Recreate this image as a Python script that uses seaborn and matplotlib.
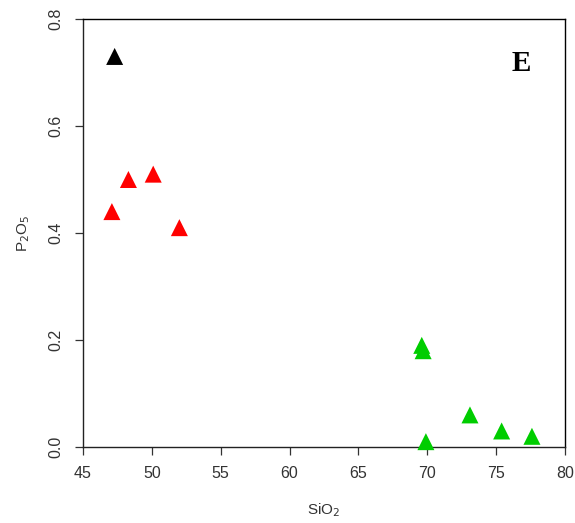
import matplotlib
matplotlib.use("Agg")
import matplotlib.pyplot as plt
import seaborn as sns
import pandas as pd

# Whole-rock SiO2 vs P2O5 (wt%) by rock group
groups = ["black"] + ["red"] * 4 + ["green"] * 6
sio2 = [47.3, 47.1, 48.3, 50.1, 52.0, 69.6, 69.7, 69.9, 73.1, 75.4, 77.6]
p2o5 = [0.73, 0.44, 0.50, 0.51, 0.41, 0.19, 0.18, 0.01, 0.06, 0.03, 0.02]
df = pd.DataFrame({"SiO2": sio2, "P2O5": p2o5, "group": groups})

palette = {"black": "#000000", "red": "#FF0000", "green": "#00CD00"}
x_ticks = [45, 50, 55, 60, 65, 70, 75, 80]
y_ticks = [0.0, 0.2, 0.4, 0.6, 0.8]
y_tick_labels = ["0.0", "0.2", "0.4", "0.6", "0.8"]

sns.set_theme(style="ticks")
plt.rcParams["font.family"] = ["Liberation Sans", "DejaVu Sans"]

fig = plt.figure(figsize=(5.75, 5.23), dpi=100)
ax = fig.add_axes([0.1443, 0.1453, 0.9826 - 0.1443, 0.9637 - 0.1453])

sns.scatterplot(data=df, x="SiO2", y="P2O5", hue="group", palette=palette,
                marker="^", s=150, linewidth=0, legend=False, ax=ax,
                clip_on=False, zorder=3)

ax.set_xlim(45, 80)
ax.set_ylim(0, 0.8)
ax.set_xticks(x_ticks)
ax.set_xticklabels([str(v) for v in x_ticks])
ax.set_yticks(y_ticks)
ax.set_yticklabels(y_tick_labels, rotation=90, va="center")

for side in ["left", "bottom", "top", "right"]:
    ax.spines[side].set_visible(True)
    ax.spines[side].set_color("#222222")
    ax.spines[side].set_linewidth(1.0)
ax.spines["top"].set_color("black")
ax.spines["right"].set_color("black")

ax.tick_params(axis="both", direction="out", length=6, width=0.9,
               color="#333333", labelsize=11.5, labelcolor="#333333")
ax.tick_params(axis="x", pad=8)
ax.tick_params(axis="y", pad=8)

ax.set_xlabel("SiO$_2$", fontsize=11, color="#333333", labelpad=14)
ax.set_ylabel("P$_2$O$_5$", fontsize=11, color="#333333", labelpad=12)

ax.text(0.91, 0.895, "E", transform=ax.transAxes, fontsize=21,
        fontweight="bold", family="Liberation Serif", ha="center", va="center",
        color="black")

fig.savefig("out.png", dpi=100)
